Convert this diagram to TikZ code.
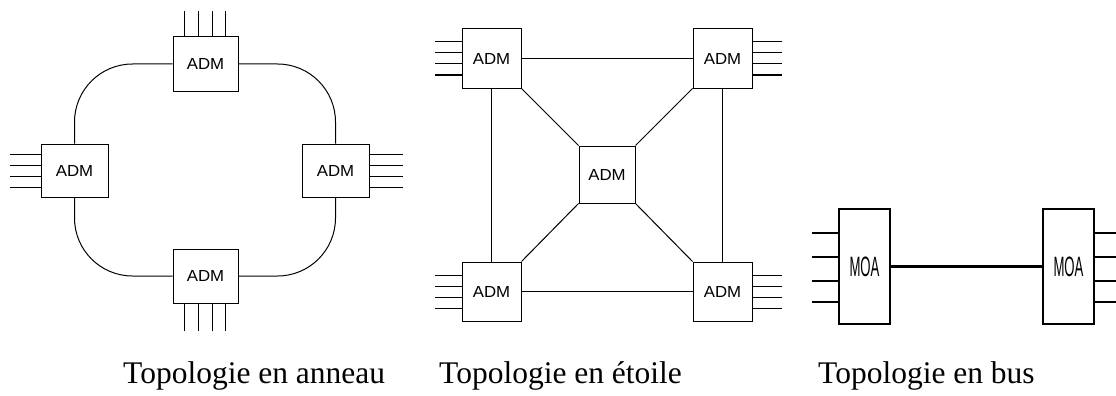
\documentclass[tikz,border=0pt]{standalone}
\usepackage{fontspec}
\usepackage{graphicx}
\setmainfont{Liberation Serif}
\newfontfamily\boxfont{Liberation Sans}
\newcommand{\admlabel}{\scalebox{1.05}[1]{ADM}}
\newcommand{\moalabel}{\scalebox{0.47}[1]{MOA}}
\tikzset{
  adm/.style={draw, line width=1pt, inner sep=0pt, minimum width=65pt, minimum height=54pt,
    font=\boxfont\fontsize{16}{16}\selectfont},
  moa/.style={draw, line width=2pt, inner sep=0pt, minimum width=51pt, minimum height=115pt,
    font=\boxfont\fontsize{28}{28}\selectfont},
  caption/.style={anchor=base west, inner sep=0pt, font=\fontsize{31.5}{36}\selectfont},
  link/.style={line width=1pt},
  buslink/.style={line width=2.4pt}
}
\begin{document}
\begin{tikzpicture}[x=1pt, y=-1pt]
    \useasboundingbox (0,0) rectangle (1116,396);
    % ring
    \node[adm] (rtop) at (205.5,64) {\admlabel};
    \node[adm, minimum width=67pt, minimum height=53pt] (rleft) at (74.5,170.5) {\admlabel};
    \node[adm, minimum width=67pt, minimum height=53pt] (rright) at (335.5,170.5) {\admlabel};
    \node[adm] (rbot) at (205.5,276) {\admlabel};
    \draw[link, rounded corners=58pt] (rtop.west) -| (rleft.north);
    \draw[link, rounded corners=58pt] (rtop.east) -| (rright.north);
    \draw[link, rounded corners=58pt] (rbot.west) -| (rleft.south);
    \draw[link, rounded corners=58pt] (rbot.east) -| (rright.south);
    \foreach \d in {-21,-7,7,20} {
      \draw[link] ([xshift=\d pt]rtop.north) -- ++(0,-25);
      \draw[link] ([xshift=\d pt]rbot.south) -- ++(0,27);
    }
    \foreach \d in {-16.5,-5.5,5.5,16.5} {
      \draw[link] ([yshift=\d pt]rleft.west) -- ++(-31,0);
      \draw[link] ([yshift=\d pt]rright.east) -- ++(33,0);
    }
    % star
    \node[adm, minimum width=59pt, minimum height=59pt] (stl) at (491.5,58.5) {\admlabel};
    \node[adm, minimum width=59pt, minimum height=59pt] (str) at (722.5,58.5) {\admlabel};
    \node[adm, minimum width=59pt, minimum height=59pt] (sbl) at (491.5,291.5) {\admlabel};
    \node[adm, minimum width=59pt, minimum height=59pt] (sbr) at (722.5,291.5) {\admlabel};
    \node[adm, minimum width=56pt, minimum height=57pt] (sc) at (607,174.5) {\admlabel};
    \draw[link] (stl) -- (str);
    \draw[link] (sbl) -- (sbr);
    \draw[link] (stl) -- (sbl);
    \draw[link] (str) -- (sbr);
    \draw[link] (stl.south east) -- (sc.north west);
    \draw[link] (str.south west) -- (sc.north east);
    \draw[link] (sbl.north east) -- (sc.south west);
    \draw[link] (sbr.north west) -- (sc.south east);
    \foreach \d in {-16.5,-5.5,5.5,16.5} {
      \draw[link] ([yshift=\d pt]stl.west) -- ++(-27,0);
      \draw[link] ([yshift=\d pt]sbl.west) -- ++(-27,0);
      \draw[link] ([yshift=\d pt]str.east) -- ++(29,0);
      \draw[link] ([yshift=\d pt]sbr.east) -- ++(29,0);
    }
    % bus
    \node[moa] (bleft) at (864.5,266.5) {\moalabel};
    \node[moa] (bright) at (1068.5,266.5) {\moalabel};
    \draw[buslink] (bleft) -- (bright);
    \foreach \d in {33.5,9.5,-14.5,-35.5} {
      \draw[buslink] ([yshift=\d pt]bleft.west) -- ++(-26,0);
      \draw[buslink] ([yshift=\d pt]bright.east) -- ++(24,0);
    }
    % captions
    \node[caption] (capring) at (123,383) {Topologie en anneau};
    \node[caption] (capstar) at (439,383) {Topologie en étoile};
    \node[caption] (capbus) at (818,383) {Topologie en bus};
  \end{tikzpicture}
\end{document}
